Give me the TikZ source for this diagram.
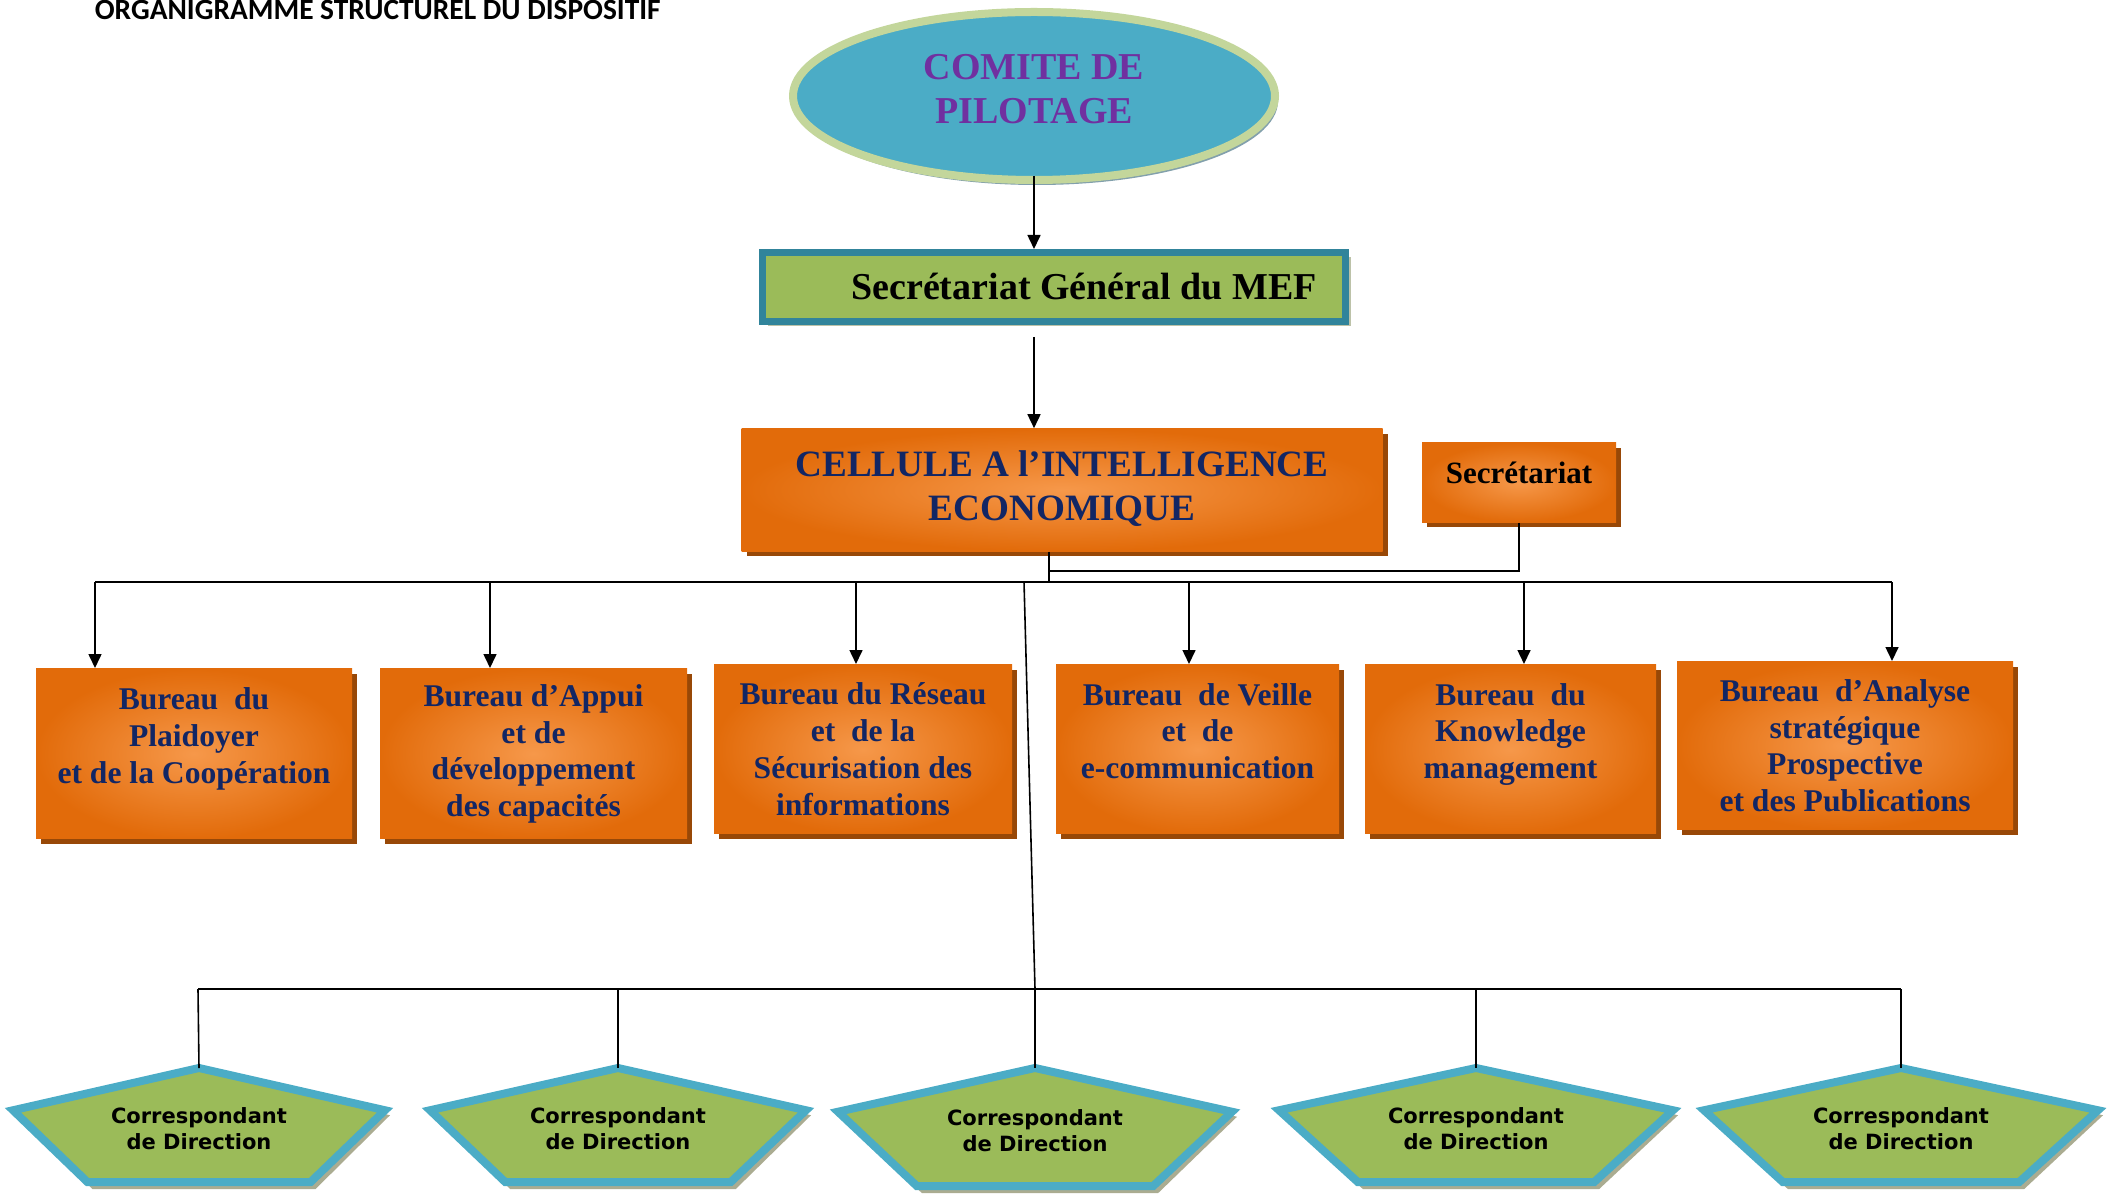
\documentclass[tikz,border=0pt]{standalone}
\usepackage{fontspec}
\setmainfont{Liberation Serif}
\newfontfamily\titlefont{Carlito}
\newfontfamily\corrfont{DejaVu Sans}
\usetikzlibrary{arrows.meta,shapes.geometric,shadows}

\definecolor{orangedark}{RGB}{226,107,10}
\definecolor{orangelight}{RGB}{246,152,74}
\definecolor{orangeshadow}{RGB}{152,72,7}
\definecolor{bureaublue}{RGB}{18,38,100}
\definecolor{mefgreen}{RGB}{155,187,89}
\definecolor{mefblue}{RGB}{49,132,155}
\definecolor{mefshadow}{RGB}{188,194,168}
\definecolor{comiteblue}{RGB}{75,172,198}
\definecolor{comitering}{RGB}{195,214,155}
\definecolor{comitepurple}{RGB}{112,48,160}
\definecolor{comiteshadow}{RGB}{130,160,172}
\definecolor{pentshadow}{RGB}{170,172,145}

\tikzset{
  orangebox/.style={rectangle, shading=radial, inner color=orangelight, outer color=orangedark,
    drop shadow={shadow xshift=2.5pt, shadow yshift=-2.5pt, fill=orangeshadow, opacity=1},
    text=bureaublue, align=center},
  bureau/.style={orangebox, anchor=north, inner sep=0pt, minimum height=85pt,
    font=\fontsize{15.8}{18.4}\selectfont\bfseries},
  corrtext/.style={font=\corrfont\bfseries\fontsize{10.5}{13}\selectfont, align=center, inner sep=0pt},
}

\begin{document}
\begin{tikzpicture}[line width=0.8pt,>={Triangle[length=7pt,width=6.5pt]},x=0.5pt,y=-0.5pt]
\useasboundingbox (0,0) rectangle (2107,1197);
\fill[white] (0,0) rectangle (2107,1197);
% title
\node[anchor=base west, inner sep=0pt, font=\titlefont\bfseries\fontsize{14.7}{17}\selectfont] (title) at (94,20) {ORGANIGRAMME STRUCTUREL DU DISPOSITIF};
% comite de pilotage (ellipse)
\node[ellipse, fill=comiteblue, draw=comitering, line width=4pt, minimum width=241pt, minimum height=84pt,
  text=comitepurple, font=\fontsize{19}{22}\selectfont\bfseries, align=center,
  drop shadow={shadow xshift=1.5pt, shadow yshift=-2.5pt, fill=comiteshadow, opacity=1}] (comite) at (1034,96) {COMITE DE\\PILOTAGE\\[-15pt]\mbox{}};
% secretariat general
\node[rectangle, fill=mefgreen, draw=mefblue, line width=3.5pt, minimum width=291.5pt, minimum height=34.5pt,
  font=\fontsize{19}{22}\selectfont\bfseries,
  drop shadow={shadow xshift=2.5pt, shadow yshift=-2.5pt, fill=mefshadow, opacity=1}] (sg) at (1054,287) {\hspace*{30pt}Secrétariat Général du MEF};
% cellule and its secretariat
\node[orangebox, minimum width=320.5pt, minimum height=61pt, font=\fontsize{18.6}{22}\selectfont\bfseries] (cellule) at (1062,490) {CELLULE A l’INTELLIGENCE\\ECONOMIQUE\\[-18pt]\mbox{}};
\node[orangebox, minimum width=97pt, minimum height=39.5pt, text=black, text depth=10pt,
  font=\fontsize{15.5}{18}\selectfont\bfseries] (secr) at (1519,482.5) {Secrétariat};
% bureaux
\node[bureau, minimum width=158pt] (b1) at (194,668) {Bureau\ \ du\\Plaidoyer\\et de la Coopération\\\mbox{}};
\node[bureau, minimum width=153.5pt] (b2) at (533.5,668) {Bureau d’Appui\\et de\\développement\\des capacités};
\node[bureau, minimum width=149pt, minimum height=84.5pt] (b3) at (863,664) {Bureau du Réseau\\et\ \ de la\\Sécurisation des\\informations};
\node[bureau, minimum width=141.5pt, minimum height=84.5pt] (b4) at (1197.5,664) {Bureau\ \ de Veille\\et\ \ de\\e-communication\\\mbox{}};
\node[bureau, minimum width=145.5pt, minimum height=84.5pt] (b5) at (1510.5,664) {Bureau\ \ du\\Knowledge\\management\\\mbox{}};
\node[bureau, minimum width=168pt, minimum height=84pt] (b6) at (1845,661) {Bureau\ \ d’Analyse\\stratégique\\Prospective\\et des Publications};
% correspondants (pentagons): name, centre x, half width, height
\def\corr#1#2#3#4{%
  \fill[pentshadow] ({#2+5},1071) -- ({#2+5+#3},{1071+0.375*#4}) -- ({#2+5+0.6*#3},{1071+#4})
    -- ({#2+5-0.6*#3},{1071+#4}) -- ({#2+5-#3},{1071+0.375*#4}) -- cycle;
  \filldraw[fill=mefgreen, draw=comiteblue, line width=4pt, line join=miter] (#2,1068) -- ({#2+#3},{1066+0.375*#4})
    -- ({#2+0.6*#3},{1064+#4}) -- ({#2-0.6*#3},{1064+#4}) -- ({#2-#3},{1066+0.375*#4}) -- cycle;
  \coordinate (#1-top) at (#2,1068);
  \node[corrtext] (#1) at (#2,{1066+0.53*#4}) {Correspondant\\de Direction};
}
\corr{corr1}{199}{186}{118}
\corr{corr2}{618}{188}{118}
\corr{corr3}{1035}{197}{122}
\corr{corr4}{1476}{197}{118}
\corr{corr5}{1901}{197}{118}
% top of the chart
\draw[->] ([yshift=4pt]comite.south) -- (comite.south |- sg.north);
\draw[->] ([yshift=-6pt]sg.south -| comite.south) -- (comite.south |- cellule.north);
\coordinate (hub) at (1049,582);
\coordinate (seclink) at (1049,571);
\draw (cellule.south -| hub) -- (hub);
\draw (secr.south) |- (seclink);
% bus to the bureaux
\coordinate (d1) at (95,582);
\coordinate (d2) at (490,582);
\coordinate (d3) at (856,582);
\coordinate (d4) at (1189,582);
\coordinate (d5) at (1524,582);
\coordinate (d6) at (1892,582);
\draw (d1) -- (d6);
\draw[->] (d1) -- (d1 |- b1.north);
\draw[->] (d2) -- (d2 |- b2.north);
\draw[->] (d3) -- (d3 |- b3.north);
\draw[->] (d4) -- (d4 |- b4.north);
\draw[->] (d5) -- (d5 |- b5.north);
\draw[->] (d6) -- (d6 |- b6.north);
% bus to the correspondants
\coordinate (split) at (1024,582);
\coordinate (l1) at (198,989);
\coordinate (l2) at (618,989);
\coordinate (l3) at (1035,989);
\coordinate (l4) at (1476,989);
\coordinate (l5) at (1901,989);
\draw (split) -- (l3);
\draw (l1) -- (l5);
\draw (l1) -- (corr1-top);
\draw (l2) -- (corr2-top);
\draw (l3) -- (corr3-top);
\draw (l4) -- (corr4-top);
\draw (l5) -- (corr5-top);
\end{tikzpicture}
\end{document}
